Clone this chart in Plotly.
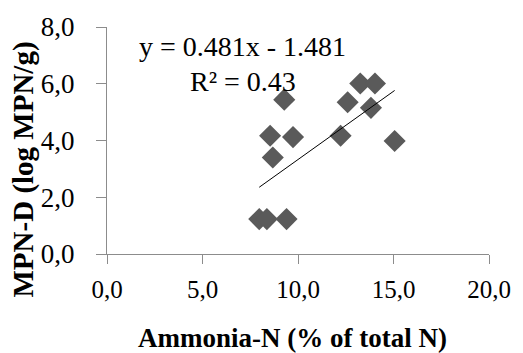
import plotly.graph_objects as go

# Ammonia-N share vs. MPN-D counts
ammonia_n = [7.97, 8.37, 9.40, 9.28, 8.54, 9.74, 8.68, 12.23, 12.60, 13.26, 14.03, 13.82, 15.06]
mpn_d = [1.23, 1.23, 1.23, 5.44, 4.17, 4.12, 3.40, 4.17, 5.35, 6.01, 6.01, 5.15, 3.98]

slope = 0.481
intercept = -1.481
r_squared = 0.43

x_ticks = [0, 5, 10, 15, 20]
x_tick_text = ["0,0", "5,0", "10,0", "15,0", "20,0"]
y_ticks = [0, 2, 4, 6, 8]
y_tick_text = ["0,0", "2,0", "4,0", "6,0", "8,0"]

FONT = "Liberation Serif"
AXIS_GREY = "#8c8c8c"

# linear trend over the observed x span
x_fit = [min(ammonia_n), max(ammonia_n)]
y_fit = [slope * x + intercept for x in x_fit]

fig = go.Figure()
fig.add_trace(go.Scatter(
    x=ammonia_n, y=mpn_d, mode="markers",
    marker=dict(symbol="diamond", size=17, color="#5a5a5a", line=dict(width=0)),
    showlegend=False, hoverinfo="skip",
))
fig.add_trace(go.Scatter(
    x=x_fit, y=y_fit, mode="lines",
    line=dict(color="black", width=1),
    showlegend=False, hoverinfo="skip",
))

# regression equation and fit quality
fig.add_annotation(
    x=0.355, y=1.0, xref="paper", yref="paper", xanchor="center", yanchor="middle",
    yshift=-19,
    text=f"y = {slope:.3f}x - {abs(intercept):.3f}", showarrow=False,
    font=dict(family=FONT, size=28, color="black"),
)
fig.add_annotation(
    x=0.357, y=1.0, xref="paper", yref="paper", xanchor="center", yanchor="middle",
    yshift=-54,
    text=f"R² = {r_squared:.2f}", showarrow=False,
    font=dict(family=FONT, size=28, color="black"),
)

# axis titles
fig.add_annotation(
    x=0.5, y=0, xref="paper", yref="paper", xanchor="center", yanchor="middle",
    xshift=-6, yshift=-84,
    text="<b>Ammonia-N (% of total N)</b>", showarrow=False,
    font=dict(family=FONT, size=27, color="black"),
)
fig.add_annotation(
    x=0, y=0.5, xref="paper", yref="paper", xanchor="center", yanchor="middle",
    xshift=-84, yshift=-29, textangle=-90,
    text="<b>MPN-D (log MPN/g)</b>", showarrow=False,
    font=dict(family=FONT, size=29, color="black"),
)

fig.update_layout(
    width=523, height=353,
    margin=dict(l=107, r=27, t=21, b=99),
    paper_bgcolor="white", plot_bgcolor="white",
    font=dict(family=FONT, color="black"),
    xaxis=dict(
        range=[0, 20], tickvals=x_ticks, ticktext=x_tick_text,
        showgrid=False, zeroline=False, showline=True, linecolor=AXIS_GREY, linewidth=1,
        ticks="outside", ticklen=9, tickcolor=AXIS_GREY, ticklabelstandoff=4,
        tickfont=dict(family=FONT, size=25, color="black"),
    ),
    yaxis=dict(
        range=[0, 8], tickvals=y_ticks, ticktext=y_tick_text,
        showgrid=False, zeroline=False, showline=True, linecolor=AXIS_GREY, linewidth=1,
        ticks="outside", ticklen=10, tickcolor=AXIS_GREY, ticklabelstandoff=16,
        tickfont=dict(family=FONT, size=27, color="black"),
    ),
)

fig.write_html("out.html")
